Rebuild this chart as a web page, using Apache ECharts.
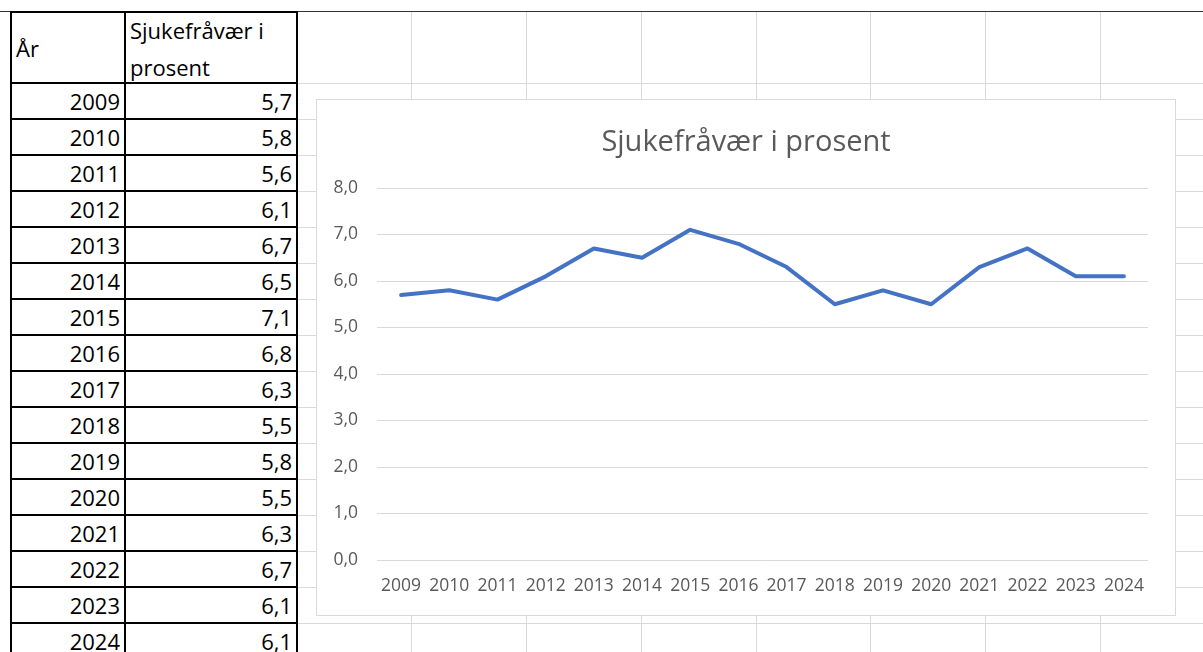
<!DOCTYPE html>
<html>
<head>
<meta charset="utf-8">
<script src="https://cdn.jsdelivr.net/npm/echarts@6/dist/echarts.min.js"></script>
<style>
  html, body { margin: 0; padding: 0; background: #fff; }
  body { width: 1203px; height: 652px; position: relative; overflow: hidden; font-family: "Open Sans", "Noto Sans", sans-serif; }
  .gl { position: absolute; background: #d9d9d9; z-index: 0; }
  .topline { position: absolute; left: 0; top: 11px; width: 1203px; height: 1px; background: #333; }
  #tbl { position: absolute; left: 10px; top: 11px; border-collapse: collapse; font-size: 22px; color: #000; z-index: 1; }
  #tbl td { border: 2px solid #000; padding: 0 4px 0 4px; height: 32px; line-height: 32px; box-sizing: border-box; }
  #tbl td.a { width: 114px; text-align: right; }
  #tbl td.b { width: 172px; text-align: right; }
  #tbl tr.head td { height: 71px; text-align: left; vertical-align: top; }
  #tbl tr.head td div { height: 60px; overflow: visible; }
  #tbl tr.head td.a div { line-height: 70px; }
  #tbl tr.head td.b div { line-height: 37px; margin-top: -1px; }
  #tbl tr.row td { height: 36px; }
  #chartbox { position: absolute; left: 316px; top: 99px; width: 860px; height: 517px; border: 1px solid #d9d9d9; background: #fff; box-sizing: border-box; z-index: 2; }
  #chart { width: 100%; height: 100%; }
</style>
</head>
<body>
<div class="topline"></div>
<table id="tbl"></table>
<div id="chartbox"><div id="chart"></div></div>
<script>
// data
const years = ['2009', '2010', '2011', '2012', '2013', '2014', '2015', '2016', '2017', '2018', '2019', '2020', '2021', '2022', '2023', '2024'];
const values = [5.7, 5.8, 5.6, 6.1, 6.7, 6.5, 7.1, 6.8, 6.3, 5.5, 5.8, 5.5, 6.3, 6.7, 6.1, 6.1];
const headA = 'År';
const headB = 'Sjukefråvær i<br>prosent';
const chartTitle = 'Sjukefråvær i prosent';

// regnearkets rutenett
const colX = [411, 526, 641, 756, 870, 985, 1100];
colX.forEach(x => {
  const d = document.createElement('div');
  d.className = 'gl';
  d.style.left = x + 'px'; d.style.top = '12px'; d.style.width = '1px'; d.style.height = '640px';
  document.body.appendChild(d);
});
for (let y = 83; y < 652; y += 36) {
  const d = document.createElement('div');
  d.className = 'gl';
  d.style.left = '297px'; d.style.top = y + 'px'; d.style.width = '906px'; d.style.height = '1px';
  document.body.appendChild(d);
}

// tabell
const tbl = document.getElementById('tbl');
let html = '<tr class="head"><td class="a"><div>' + headA + '</div></td><td class="b"><div>' + headB + '</div></td></tr>';
for (let i = 0; i < years.length; i++) {
  html += '<tr class="row"><td class="a">' + years[i] + '</td><td class="b">' + values[i].toFixed(1).replace('.', ',') + '</td></tr>';
}
tbl.innerHTML = html;

// diagram
const myechart = echarts.init(document.getElementById('chart'));
const option = {
  animation: false,
  textStyle: { fontFamily: '"Open Sans", "Noto Sans", sans-serif' },
  title: {
    text: chartTitle,
    left: 'center',
    top: 23,
    textStyle: { color: '#595959', fontSize: 29, fontWeight: 'normal' }
  },
  grid: { left: 60, right: 27, top: 88, bottom: 55, containLabel: false },
  xAxis: {
    type: 'category',
    data: years,
    boundaryGap: true,
    axisLine: { show: false },
    axisTick: { show: false },
    axisLabel: { interval: 0, color: '#595959', fontSize: 17.5, margin: 17 }
  },
  yAxis: {
    type: 'value',
    min: 0,
    max: 8,
    interval: 1,
    axisLine: { show: false },
    axisTick: { show: false },
    axisLabel: {
      color: '#595959', fontSize: 17.5, margin: 19,
      formatter: v => v.toFixed(1).replace('.', ',')
    },
    splitLine: { lineStyle: { color: '#d9d9d9', width: 1 } }
  },
  series: [{
    type: 'line',
    data: values,
    symbol: 'none',
    lineStyle: { color: '#4472C4', width: 4, join: 'round', cap: 'round' }
  }]
};
myechart.setOption(option);
</script>
</body>
</html>
